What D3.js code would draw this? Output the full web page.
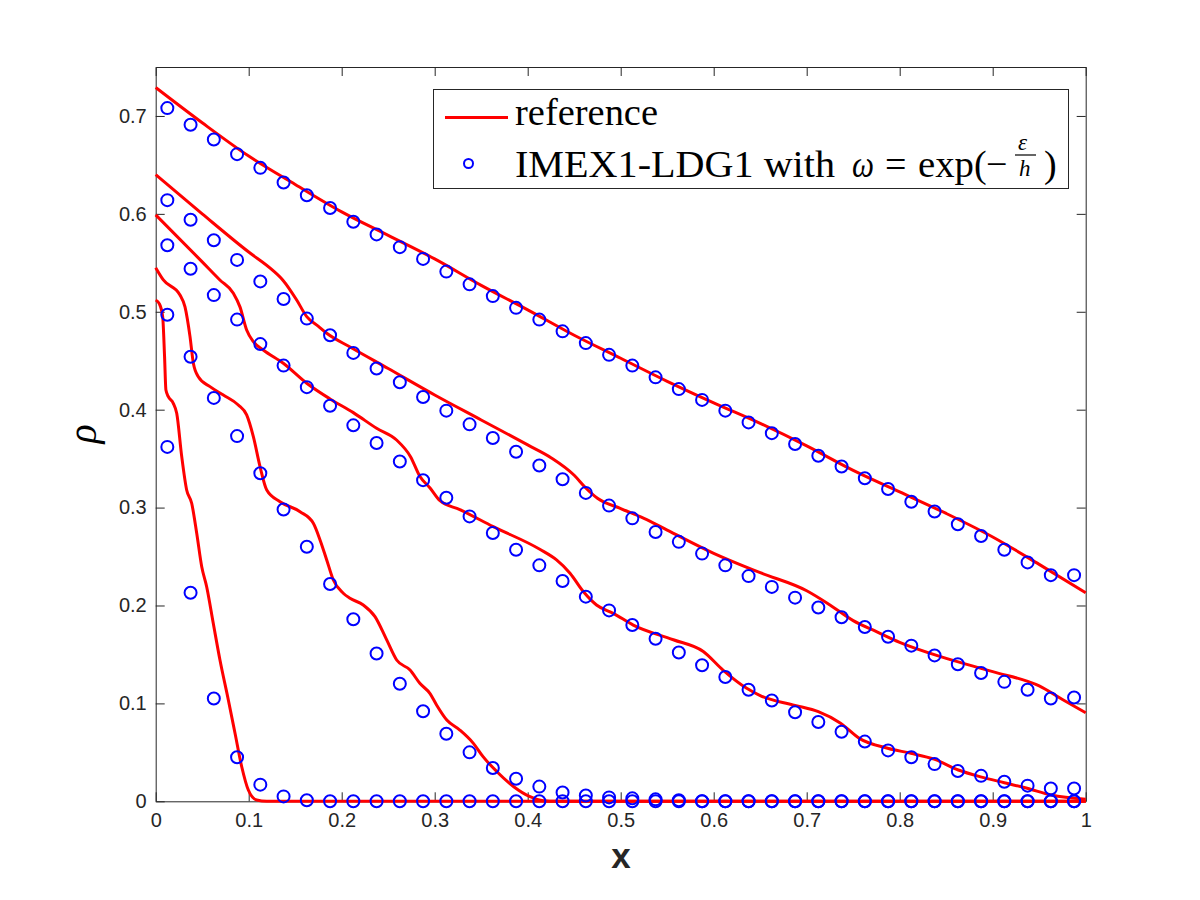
<!DOCTYPE html>
<html>
<head>
<meta charset="utf-8">
<script src="https://cdn.jsdelivr.net/npm/d3@7"></script>
<style>
    body { margin: 0; background: #fff; }
</style>
</head>
<body>
<div id="chart"></div>
<script>

// cell centres where the DG solution is plotted
var xCells = [0.0125, 0.0375, 0.0625, 0.0875, 0.1125, 0.1375, 0.1625, 0.1875, 0.2125, 0.2375,
    0.2625, 0.2875, 0.3125, 0.3375, 0.3625, 0.3875, 0.4125, 0.4375, 0.4625, 0.4875,
    0.5125, 0.5375, 0.5625, 0.5875, 0.6125, 0.6375, 0.6625, 0.6875, 0.7125, 0.7375,
    0.7625, 0.7875, 0.8125, 0.8375, 0.8625, 0.8875, 0.9125, 0.9375, 0.9625, 0.9875];

// IMEX1-LDG1 values, one array per output time (top curve first)
var dgA = [0.708, 0.691, 0.676, 0.661, 0.647, 0.632, 0.619, 0.606, 0.592, 0.579,
    0.566, 0.554, 0.541, 0.528, 0.516, 0.504, 0.492, 0.480, 0.468, 0.456,
    0.445, 0.433, 0.421, 0.410, 0.399, 0.387, 0.376, 0.365, 0.353, 0.342,
    0.330, 0.319, 0.306, 0.296, 0.283, 0.271, 0.257, 0.244, 0.231, 0.231];
var dgB = [0.614, 0.594, 0.573, 0.553, 0.531, 0.513, 0.493, 0.476, 0.458, 0.442,
    0.428, 0.413, 0.399, 0.385, 0.371, 0.357, 0.343, 0.329, 0.315, 0.302,
    0.289, 0.275, 0.265, 0.253, 0.241, 0.230, 0.219, 0.208, 0.198, 0.188,
    0.178, 0.168, 0.159, 0.149, 0.140, 0.131, 0.122, 0.114, 0.105, 0.106];
var dgC = [0.568, 0.544, 0.517, 0.492, 0.467, 0.445, 0.423, 0.404, 0.384, 0.366,
    0.347, 0.328, 0.310, 0.291, 0.274, 0.257, 0.241, 0.225, 0.209, 0.195,
    0.180, 0.166, 0.152, 0.139, 0.127, 0.114, 0.103, 0.091, 0.081, 0.071,
    0.061, 0.052, 0.045, 0.038, 0.031, 0.026, 0.020, 0.016, 0.013, 0.013];
var dgD = [0.497, 0.454, 0.412, 0.373, 0.335, 0.298, 0.260, 0.222, 0.186, 0.151,
    0.120, 0.092, 0.069, 0.050, 0.034, 0.023, 0.015, 0.009, 0.006, 0.004,
    0.003, 0.002, 0.001, 0, 0, 0, 0, 0, 0, 0,
    0, 0, 0, 0, 0, 0, 0, 0, 0, 0];
var dgE = [0.362, 0.213, 0.105, 0.045, 0.017, 0.005, 0.001, 0, 0, 0,
    0, 0, 0, 0, 0, 0, 0, 0, 0, 0,
    0, 0, 0, 0, 0, 0, 0, 0, 0, 0,
    0, 0, 0, 0, 0, 0, 0, 0, 0, 0];

// reference solutions (x, rho)
var refAx = [0, 0.05, 0.1, 0.15, 0.2, 0.25, 0.3, 0.35, 0.4, 0.45, 0.5, 0.55, 0.6, 0.65, 0.7, 0.75, 0.8, 0.85, 0.9, 0.95, 1];
var refAy = [0.729, 0.693, 0.659, 0.630, 0.602, 0.578, 0.554, 0.527, 0.502, 0.476, 0.4525, 0.429, 0.407, 0.386, 0.363, 0.338, 0.316, 0.294, 0.270, 0.242, 0.213];

var refBx = [0, 0.05, 0.1, 0.125, 0.137, 0.1516, 0.1624, 0.175, 0.1839, 0.209, 0.25, 0.3, 0.35, 0.4, 0.425, 0.45, 0.4625, 0.475, 0.5, 0.525,
    0.55, 0.6, 0.65, 0.7, 0.725, 0.75, 0.775, 0.8, 0.85, 0.9, 0.95, 0.975, 1];
var refBy = [0.640, 0.600, 0.561, 0.543, 0.532, 0.512, 0.495, 0.485, 0.478, 0.464, 0.442, 0.415, 0.3895, 0.364, 0.351, 0.333, 0.320, 0.3095, 0.299, 0.289,
    0.277, 0.2533, 0.2335, 0.215, 0.2005, 0.1845, 0.1733, 0.1624, 0.146, 0.1324, 0.1178, 0.104, 0.0905];

var refCx = [0, 0.05, 0.069, 0.0835, 0.0906, 0.0978, 0.105, 0.1157, 0.1372, 0.1624, 0.1874, 0.2125, 0.2375, 0.259, 0.274, 0.284, 0.295, 0.3057, 0.327, 0.363,
    0.413, 0.431, 0.4455, 0.46, 0.474, 0.492, 0.5135, 0.5566, 0.5888, 0.61, 0.6355, 0.65, 0.6874, 0.7125, 0.736, 0.757, 0.788, 0.812, 0.837, 0.863,
    0.887, 0.9125, 0.937, 0.963, 1];
var refCy = [0.599, 0.551, 0.5325, 0.519, 0.505, 0.4814, 0.4695, 0.461, 0.4474, 0.427, 0.411, 0.397, 0.381, 0.369, 0.352, 0.332, 0.320, 0.307, 0.298, 0.2805,
    0.2574, 0.2465, 0.233, 0.214, 0.2005, 0.192, 0.180, 0.165, 0.153, 0.134, 0.1154, 0.108, 0.098, 0.0915, 0.080, 0.064, 0.054, 0.049, 0.043, 0.032,
    0.025, 0.019, 0.0133, 0.0064, 0.002];

var refDx = [0, 0.0082, 0.0261, 0.0315, 0.0369, 0.0405, 0.0458, 0.0584, 0.0727, 0.0888, 0.0978, 0.105, 0.1122, 0.1194, 0.1337, 0.1552, 0.1695, 0.1767, 0.1839, 0.191,
    0.2017, 0.2089, 0.2232, 0.2358, 0.2484, 0.2591, 0.2735, 0.284, 0.295, 0.302, 0.313, 0.327, 0.3416, 0.352, 0.367, 0.385, 0.4025, 0.417, 0.43, 1];
var refDy = [0.545, 0.5325, 0.5172, 0.505, 0.4746, 0.4474, 0.4337, 0.4235, 0.415, 0.4048, 0.3946, 0.3724, 0.3418, 0.318, 0.306, 0.2958, 0.284, 0.267, 0.2465, 0.226,
    0.2125, 0.2074, 0.2005, 0.1886, 0.1648, 0.1443, 0.1341, 0.1205, 0.110, 0.0984, 0.083, 0.0728, 0.0592, 0.0456, 0.0302, 0.0149, 0.0047, 0.0006, 0, 0];

var refEx = [0, 0.004, 0.0075, 0.0095, 0.011, 0.0136, 0.0189, 0.0226, 0.028, 0.0333, 0.0387, 0.0441, 0.0495, 0.0548, 0.0619, 0.0691, 0.0781, 0.0853, 0.0925, 0.0996,
    0.1086, 0.1194, 1];
var refEy = [0.512, 0.508, 0.495, 0.455, 0.420, 0.4133, 0.4065, 0.3963, 0.352, 0.318, 0.3044, 0.2738, 0.2396, 0.2192, 0.1818, 0.1443, 0.1035, 0.0695, 0.0353, 0.0115,
    0.0013, 0, 0];

var xTicks = [0, 0.1, 0.2, 0.3, 0.4, 0.5, 0.6, 0.7, 0.8, 0.9, 1];
var xTickLabels = ["0", "0.1", "0.2", "0.3", "0.4", "0.5", "0.6", "0.7", "0.8", "0.9", "1"];
var yTicks = [0, 0.1, 0.2, 0.3, 0.4, 0.5, 0.6, 0.7];
var yTickLabels = ["0", "0.1", "0.2", "0.3", "0.4", "0.5", "0.6", "0.7"];


DensityChart = function(_parentElement, _refs, _dgs){
    this.parentElement = _parentElement;
    this.refs = _refs;
    this.dgs = _dgs;

    this.initVis();
}

DensityChart.prototype.initVis = function(){
    var vis = this;

    vis.margin = {top: 67, left: 155.7, right: 114.3, bottom: 98.7};
    vis.width = 1200 - vis.margin.left - vis.margin.right;
    vis.height = 900 - vis.margin.top - vis.margin.bottom;

    vis.root = d3.select("#" + vis.parentElement).append("svg")
        .attr("width", 1200)
        .attr("height", 900);

    vis.svg = vis.root.append("g")
        .attr("transform", "translate(" + vis.margin.left + "," + vis.margin.top + ")");

    vis.x = d3.scaleLinear().domain([0, 1]).range([0, vis.width]);
    vis.y = d3.scaleLinear().domain([0, 0.75]).range([vis.height, 0]);

    var axisColor = "#262626";
    var tickFont = "'Liberation Sans', Arial, sans-serif";

    // box with inward ticks on all four sides
    vis.svg.append("g")
        .attr("transform", "translate(0," + vis.height + ")")
        .call(d3.axisBottom(vis.x).tickValues(xTicks).tickSizeInner(-9).tickSizeOuter(0).tickPadding(12)
            .tickFormat(function(d, i){ return xTickLabels[i]; }))
        .call(styleAxis);
    vis.svg.append("g")
        .call(d3.axisTop(vis.x).tickValues(xTicks).tickSizeInner(-9).tickSizeOuter(0).tickFormat(""))
        .call(styleAxis);
    vis.svg.append("g")
        .call(d3.axisLeft(vis.y).tickValues(yTicks).tickSizeInner(-9).tickSizeOuter(0).tickPadding(9)
            .tickFormat(function(d, i){ return yTickLabels[i]; }))
        .call(styleAxis);
    vis.svg.append("g")
        .attr("transform", "translate(" + vis.width + ",0)")
        .call(d3.axisRight(vis.y).tickValues(yTicks).tickSizeInner(-9).tickSizeOuter(0).tickFormat(""))
        .call(styleAxis);

    function styleAxis(g){
        g.attr("color", axisColor)
            .attr("font-family", tickFont)
            .attr("font-size", 20);
        g.selectAll("path, line").attr("stroke-width", 1);
    }

    // axis labels
    vis.root.append("text")
        .attr("x", 621)
        .attr("y", 868)
        .attr("text-anchor", "middle")
        .attr("font-family", tickFont)
        .attr("font-weight", "bold")
        .attr("font-size", 35)
        .attr("fill", axisColor)
        .text("x");

    vis.root.append("text")
        .attr("transform", "translate(96,434) rotate(-90)")
        .attr("text-anchor", "middle")
        .attr("font-family", "'Liberation Serif', serif")
        .attr("font-style", "italic")
        .attr("font-size", 40)
        .attr("fill", "#000")
        .text("ρ");

    vis.line = d3.line()
        .x(function(d){ return vis.x(d[0]); })
        .y(function(d){ return vis.y(d[1]); })
        .curve(d3.curveMonotoneX);

    vis.wrangleData();
}

DensityChart.prototype.wrangleData = function(){
    var vis = this;

    vis.refData = vis.refs.map(function(r){
        return r.x.map(function(xv, i){ return [xv, r.y[i]]; });
    });
    vis.dgData = [];
    vis.dgs.forEach(function(s){
        s.forEach(function(v, i){ vis.dgData.push([xCells[i], v]); });
    });

    vis.updateVis();
}

DensityChart.prototype.updateVis = function(){
    var vis = this;

    vis.svg.selectAll(".ref")
        .data(vis.refData)
        .enter().append("path")
        .attr("class", "ref")
        .attr("d", vis.line)
        .attr("fill", "none")
        .attr("stroke", "#ff0000")
        .attr("stroke-width", 3)
        .attr("stroke-linejoin", "round");

    vis.svg.selectAll(".dg")
        .data(vis.dgData)
        .enter().append("circle")
        .attr("class", "dg")
        .attr("cx", function(d){ return vis.x(d[0]); })
        .attr("cy", function(d){ return vis.y(d[1]); })
        .attr("r", 6)
        .attr("fill", "none")
        .attr("stroke", "#0000ff")
        .attr("stroke-width", 2);

    // legend (latex-like layout, pieces placed by hand)
    var lg = vis.root.append("g").attr("class", "legend");
    var serif = "'Liberation Serif', 'Times New Roman', serif";

    lg.append("rect")
        .attr("x", 433.5).attr("y", 89.5)
        .attr("width", 635).attr("height", 99)
        .attr("fill", "#fff")
        .attr("stroke", "#262626")
        .attr("stroke-width", 1);

    lg.append("line")
        .attr("x1", 445).attr("x2", 508)
        .attr("y1", 117.5).attr("y2", 117.5)
        .attr("stroke", "#ff0000").attr("stroke-width", 3);
    lg.append("text")
        .attr("x", 515).attr("y", 125)
        .attr("font-family", serif).attr("font-size", 38)
        .attr("textLength", 143).attr("lengthAdjust", "spacingAndGlyphs")
        .text("reference");

    lg.append("circle")
        .attr("cx", 468.5).attr("cy", 163.5).attr("r", 4.5)
        .attr("fill", "none").attr("stroke", "#0000ff").attr("stroke-width", 2);

    var base = 177;
    function piece(x, str, size, italic, y){
        return lg.append("text")
            .attr("x", x).attr("y", y || base)
            .attr("font-family", serif)
            .attr("font-size", size)
            .attr("font-style", italic ? "italic" : "normal")
            .text(str);
    }
    piece(515, "IMEX1-LDG1 with", 38, false)
        .attr("textLength", 320).attr("lengthAdjust", "spacingAndGlyphs");
    piece(852, "ω", 38, true)
        .attr("textLength", 22).attr("lengthAdjust", "spacingAndGlyphs");
    piece(885, "=", 38, false);
    piece(918, "exp", 38, false)
        .attr("textLength", 56).attr("lengthAdjust", "spacingAndGlyphs");
    piece(974, "(", 38, false);
    piece(986, "−", 38, false);
    piece(1018, "ε", 23, true, 150);
    lg.append("line")
        .attr("x1", 1015).attr("x2", 1036)
        .attr("y1", 155).attr("y2", 155)
        .attr("stroke", "#000").attr("stroke-width", 1.2);
    piece(1019, "h", 23, true, 176);
    piece(1044, ")", 38, false);
}

var chart = new DensityChart("chart",
    [{x: refAx, y: refAy}, {x: refBx, y: refBy}, {x: refCx, y: refCy}, {x: refDx, y: refDy}, {x: refEx, y: refEy}],
    [dgA, dgB, dgC, dgD, dgE]);

</script>
</body>
</html>
